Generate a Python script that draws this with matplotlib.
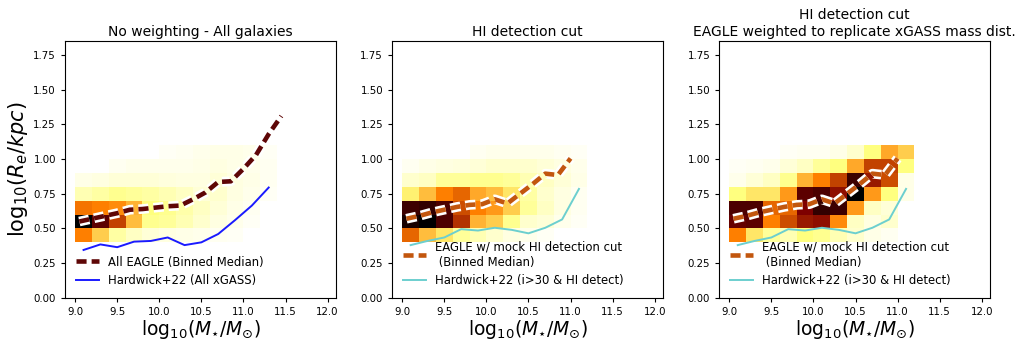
import numpy as np
import matplotlib
matplotlib.use('Agg')
import matplotlib.pyplot as plt
import matplotlib.patheffects as pe

# bin edges of the 2D histograms
mass_edges = [9.0, 9.2, 9.4, 9.6, 9.8, 10.0, 10.2, 10.4, 10.6, 10.8, 11.0, 11.2, 11.4]
size_edges = [0.4, 0.5, 0.6, 0.7, 0.8, 0.9, 1.0, 1.1]

# normalised bin densities, rows = size bins (bottom->top), cols = mass bins
dens_all = [
    [0.50, 0.35, 0.18, 0.12, 0.08, 0.06, 0.05, 0.04, 0.03, 0.02, 0.00, 0.00],
    [1.00, 0.82, 0.62, 0.38, 0.22, 0.20, 0.15, 0.10, 0.06, 0.04, 0.02, 0.00],
    [0.52, 0.50, 0.48, 0.40, 0.25, 0.22, 0.17, 0.12, 0.08, 0.05, 0.03, 0.00],
    [0.15, 0.18, 0.22, 0.20, 0.18, 0.15, 0.12, 0.08, 0.10, 0.06, 0.04, 0.02],
    [0.05, 0.06, 0.08, 0.08, 0.08, 0.07, 0.06, 0.06, 0.08, 0.06, 0.05, 0.03],
    [0.00, 0.00, 0.03, 0.04, 0.04, 0.04, 0.04, 0.05, 0.06, 0.05, 0.04, 0.03],
    [0.00, 0.00, 0.00, 0.00, 0.00, 0.02, 0.03, 0.04, 0.05, 0.05, 0.04, 0.02],
]
dens_hi = [
    [0.55, 0.38, 0.30, 0.20, 0.15, 0.10, 0.06, 0.04, 0.02, 0.00, 0.00],
    [0.95, 1.00, 0.85, 0.65, 0.40, 0.35, 0.22, 0.10, 0.08, 0.04, 0.02],
    [0.88, 0.90, 0.85, 0.60, 0.50, 0.45, 0.35, 0.20, 0.12, 0.06, 0.03],
    [0.28, 0.38, 0.50, 0.55, 0.42, 0.38, 0.30, 0.18, 0.10, 0.06, 0.03],
    [0.10, 0.12, 0.20, 0.20, 0.22, 0.22, 0.20, 0.15, 0.12, 0.08, 0.05],
    [0.03, 0.05, 0.06, 0.07, 0.08, 0.10, 0.10, 0.10, 0.08, 0.06, 0.04],
    [0.00, 0.00, 0.00, 0.00, 0.03, 0.04, 0.04, 0.04, 0.04, 0.03, 0.02],
]
dens_weighted = [
    [0.50, 0.30, 0.20, 0.15, 0.25, 0.22, 0.15, 0.10, 0.05, 0.03, 0.00],
    [0.80, 0.82, 0.50, 0.60, 0.70, 0.72, 0.48, 0.12, 0.06, 0.10, 0.00],
    [0.85, 0.85, 0.55, 0.55, 0.75, 0.90, 0.88, 0.45, 0.12, 0.08, 0.00],
    [0.25, 0.30, 0.30, 0.45, 0.82, 0.85, 0.72, 1.00, 0.45, 0.25, 0.05],
    [0.04, 0.08, 0.12, 0.22, 0.40, 0.50, 0.62, 0.88, 0.70, 0.60, 0.05],
    [0.02, 0.03, 0.04, 0.08, 0.12, 0.20, 0.25, 0.42, 0.62, 0.62, 0.25],
    [0.00, 0.00, 0.00, 0.02, 0.03, 0.03, 0.05, 0.10, 0.25, 0.42, 0.35],
]

# binned medians
med_all_x = [9.05, 9.2, 9.35, 9.5, 9.65, 9.8, 9.95, 10.1, 10.25, 10.4, 10.55, 10.7,
             10.85, 11.0, 11.15, 11.3, 11.45]
med_all_y = [0.55, 0.57, 0.59, 0.61, 0.635, 0.64, 0.65, 0.66, 0.665, 0.71, 0.76, 0.835,
             0.84, 0.93, 1.03, 1.18, 1.31]
med_hi_x = [9.05, 9.2, 9.35, 9.5, 9.65, 9.8, 9.95, 10.1, 10.25, 10.4, 10.55, 10.7, 10.85, 11.0]
med_hi_y = [0.57, 0.59, 0.615, 0.635, 0.655, 0.67, 0.675, 0.71, 0.68, 0.75, 0.82, 0.895,
            0.885, 1.005]

# Hardwick+22 observed relations
hw_all_x = [9.1, 9.3, 9.5, 9.7, 9.9, 10.1, 10.3, 10.5, 10.7, 10.9, 11.1, 11.3]
hw_all_y = [0.345, 0.385, 0.365, 0.405, 0.41, 0.435, 0.38, 0.40, 0.46, 0.56, 0.665, 0.795]
hw_hi_x = [9.1, 9.3, 9.5, 9.7, 9.9, 10.1, 10.3, 10.5, 10.7, 10.9, 11.1]
hw_hi_y = [0.38, 0.41, 0.435, 0.495, 0.485, 0.505, 0.49, 0.465, 0.505, 0.565, 0.785]

titles = ['No weighting - All galaxies',
          'HI detection cut',
          'HI detection cut\nEAGLE weighted to replicate xGASS mass dist.']

fig, axes = plt.subplots(1, 3, figsize=(10.24, 3.4), dpi=100)
fig.subplots_adjust(left=0.0635, right=0.967, bottom=0.124, top=0.879, wspace=0.207)

white_edge = [pe.Stroke(linewidth=7, foreground='white'), pe.Normal()]

panels = [
    (dens_all, med_all_x, med_all_y, '#5e0606', 'All EAGLE (Binned Median)',
     hw_all_x, hw_all_y, '#1a1aff', 'Hardwick+22 (All xGASS)'),
    (dens_hi, med_hi_x, med_hi_y, '#c2560e', 'EAGLE w/ mock HI detection cut\n (Binned Median)',
     hw_hi_x, hw_hi_y, '#6ccfcf', 'Hardwick+22 (i>30 & HI detect)'),
    (dens_weighted, med_hi_x, med_hi_y, '#c2560e', 'EAGLE w/ mock HI detection cut\n (Binned Median)',
     hw_hi_x, hw_hi_y, '#6ccfcf', 'Hardwick+22 (i>30 & HI detect)'),
]

for ax, p, title in zip(axes, panels, titles):
    dens, mx, my, mc, mlab, hx, hy, hc, hlab = p
    ncol = len(dens[0])
    ax.pcolormesh(mass_edges[:ncol + 1], size_edges, np.array(dens),
                  cmap='afmhot_r', vmin=0, vmax=1)
    ax.plot(mx, my, color=mc, lw=3.3, dashes=(2.2, 1.1), path_effects=white_edge,
            label=mlab, zorder=3)
    ax.plot(hx, hy, color=hc, lw=1.4, label=hlab, zorder=2)
    ax.set_xlim(8.88, 12.1)
    ax.set_ylim(0, 1.85)
    ax.set_xticks([9.0, 9.5, 10.0, 10.5, 11.0, 11.5, 12.0])
    ax.set_xticklabels(['9.0', '9.5', '10.0', '10.5', '11.0', '11.5', '12.0'])
    ax.set_yticks([0.0, 0.25, 0.5, 0.75, 1.0, 1.25, 1.5, 1.75])
    ax.set_yticklabels(['0.00', '0.25', '0.50', '0.75', '1.00', '1.25', '1.50', '1.75'])
    ax.tick_params(labelsize=7.4, length=3)
    ax.set_title(title, fontsize=10, pad=4)
    ax.set_xlabel(r'log$_{10}$($M_{\star}/M_{\odot}$)', fontsize=13.5, labelpad=1)
    ax.legend(loc='lower left', frameon=False, fontsize=8.4, handlelength=2.0)

axes[0].set_ylabel(r'log$_{10}$($R_e/kpc$)', fontsize=15, labelpad=2)

fig.savefig('out.png', dpi=100)
